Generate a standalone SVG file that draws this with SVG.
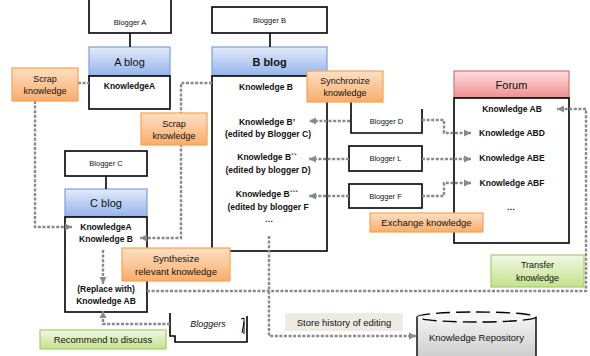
<svg xmlns="http://www.w3.org/2000/svg" width="590" height="356" viewBox="0 0 590 356">
  <defs>
    <linearGradient id="gOrange" x1="0" y1="0" x2="0" y2="1">
      <stop offset="0" stop-color="#fde0c4"/>
      <stop offset="1" stop-color="#f9ad6a"/>
    </linearGradient>
    <linearGradient id="gBlue" x1="0" y1="0" x2="0" y2="1">
      <stop offset="0" stop-color="#e3ebfa"/>
      <stop offset="1" stop-color="#93b3ec"/>
    </linearGradient>
    <linearGradient id="gRed" x1="0" y1="0" x2="0" y2="1">
      <stop offset="0" stop-color="#fcdede"/>
      <stop offset="1" stop-color="#ef8f8f"/>
    </linearGradient>
    <linearGradient id="gGreen" x1="0" y1="0" x2="0" y2="1">
      <stop offset="0" stop-color="#f1f9e2"/>
      <stop offset="1" stop-color="#c3e28c"/>
    </linearGradient>
    <linearGradient id="gGrey" x1="0" y1="0" x2="0" y2="1">
      <stop offset="0" stop-color="#f4f4f4"/>
      <stop offset="1" stop-color="#c8c8c8"/>
    </linearGradient>
    <marker id="arr" markerUnits="userSpaceOnUse" markerWidth="8" markerHeight="8" refX="7" refY="4" orient="auto">
      <path d="M0,0.5 L7,4 L0,7.5 z" fill="#8a8a8a"/>
    </marker>
  </defs>
  <style>
    .box { fill: #ffffff; stroke: #000000; stroke-width: 1.6; }
    .line { fill: none; stroke: #000000; stroke-width: 1.6; }
    .orange { fill: url(#gOrange); stroke: #f7a257; stroke-width: 1.2; }
    .blue { fill: url(#gBlue); stroke: #7e9fd6; stroke-width: 1.2; }
    .red { fill: url(#gRed); stroke: #d97070; stroke-width: 1.2; }
    .green { fill: url(#gGreen); stroke: #a9cc6a; stroke-width: 1.2; }
    .beige { fill: #eeebe2; stroke: none; }
    .dash { fill: none; stroke: #8a8a8a; stroke-width: 2.4; stroke-dasharray: 3 1.6; }
    .dashA { fill: none; stroke: #8a8a8a; stroke-width: 2.4; stroke-dasharray: 3 1.6; marker-end: url(#arr); }
    text { font-family: "Liberation Sans", Arial, sans-serif; fill: #111111; text-anchor: middle; }
    .small { font-size: 7.5px; }
    .lbl { font-size: 9px; }
    .lbl2 { font-size: 9.5px; }
    .head { font-size: 11px; }
    .kb { font-size: 8.5px; font-weight: bold; }
  </style>

  <!-- Blogger A and A blog -->
  <g id="bloggerA">
    <rect class="box" x="89" y="-4" width="82" height="37"/>
    <text class="small" x="130" y="25">Blogger A</text>
  </g>
  <g id="ablog">
    <rect class="blue" x="89" y="47" width="81" height="29"/>
    <text class="head" x="129.5" y="66">A blog</text>
    <rect class="box" x="89" y="76" width="81" height="33"/>
    <text class="kb" x="129.5" y="89">KnowledgeA</text>
  </g>

  <!-- Blogger C and C blog -->
  <g id="bloggerC">
    <rect class="box" x="65" y="151" width="82" height="25"/>
    <text class="small" x="106" y="166">Blogger C</text>
  </g>
  <g id="cblog">
    <rect class="blue" x="65" y="189" width="82" height="28"/>
    <text class="head" x="106" y="207">C blog</text>
    <rect class="box" x="65" y="217" width="82" height="95"/>
    <text class="kb" x="106" y="230">KnowledgeA</text>
    <text class="kb" x="106" y="242">Knowledge B</text>
    <text class="kb" x="106" y="292">(Replace with)</text>
    <text class="kb" x="106" y="304">Knowledge AB</text>
  </g>

  <!-- Blogger B and B blog -->
  <g id="bloggerB">
    <rect class="box" x="212" y="7" width="115" height="26"/>
    <text class="small" x="269.5" y="23">Blogger B</text>
  </g>
  <g id="bblog">
    <rect class="blue" x="212" y="47" width="115" height="29"/>
    <text class="head" x="269.5" y="66" font-weight="bold">B blog</text>
    <rect class="box" x="212" y="76" width="115" height="175"/>
    <text class="kb" x="266" y="90">Knowledge B</text>
    <text class="kb" x="267" y="125">Knowledge  B’</text>
    <text class="kb" x="268" y="137">(edited by Blogger C)</text>
    <text class="kb" x="267" y="160">Knowledge  B``</text>
    <text class="kb" x="268" y="173">(edited by blogger D)</text>
    <text class="kb" x="267" y="197">Knowledge  B```</text>
    <text class="kb" x="268" y="210">(edited by blogger F</text>
    <text class="kb" x="269" y="222">…</text>
  </g>

  <!-- bloggers D, L, F -->
  <g id="bloggerD">
    <path class="line" d="M351,102 V133 H422 V109"/>
    <text class="small" x="386.5" y="124">Blogger D</text>
  </g>
  <g id="bloggerL">
    <rect class="box" x="349" y="146" width="73" height="25"/>
    <text class="small" x="385.5" y="161">Blogger L</text>
  </g>
  <g id="bloggerF">
    <rect class="box" x="349" y="184" width="73" height="24"/>
    <text class="small" x="385.5" y="199">Blogger F</text>
  </g>

  <!-- Forum -->
  <g id="forum">
    <rect class="red" x="454" y="71" width="115" height="27"/>
    <text class="head" x="511.5" y="89">Forum</text>
    <rect class="box" x="454" y="98" width="115" height="145"/>
    <text class="kb" x="512" y="112">Knowledge AB</text>
    <text class="kb" x="512" y="136">Knowledge  ABD</text>
    <text class="kb" x="512" y="161">Knowledge ABE</text>
    <text class="kb" x="512" y="186">Knowledge  ABF</text>
    <text class="kb" x="511" y="210">…</text>
  </g>

  <!-- bloggers (stacked documents) -->
  <g id="bloggers">
    <path class="line" d="M170,313 V336 H175 V342 H247 V316"/>
    <path fill="none" stroke="#000" stroke-width="1" d="M241,319 L244,318 V334 M244,322 L242,333"/>
    <text class="lbl" x="208" y="327" font-style="italic">Bloggers</text>
  </g>

  <!-- knowledge repository -->
  <g id="repository">
    <path d="M417,317 V362 H536 V317" fill="url(#gGrey)" stroke="#000" stroke-width="1.4"/>
    <ellipse cx="476.5" cy="317" rx="59.5" ry="5" fill="#f6f6f6" stroke="#000" stroke-width="1.4" stroke-dasharray="14 6"/>
    <text class="lbl2" x="476.5" y="341">Knowledge Repository</text>
  </g>

  <!-- connectors -->
  <g id="connectors">
    <line class="line" x1="130" y1="33" x2="130" y2="47"/>
    <line class="line" x1="270" y1="33" x2="270" y2="47"/>
    <line class="line" x1="106" y1="176" x2="106" y2="189"/>
    <!-- scrap A knowledge into C blog -->
    <line class="dash" x1="78" y1="83" x2="89" y2="83"/>
    <path class="dashA" d="M35,101 V227 H72"/>
    <!-- scrap B knowledge into C blog -->
    <path class="dashA" d="M212,83 H181 V238 H140"/>
    <!-- replace within C blog -->
    <path class="dashA" d="M103,250 V284"/>
    <!-- bloggers recommend discussion -->
    <path class="dashA" d="M170,324 H103 V311"/>
    <!-- bloggers edit B blog -->
    <path class="dashA" d="M350,121 H309"/>
    <path class="dashA" d="M349,159 H309"/>
    <path class="dashA" d="M349,196 H309"/>
    <!-- bloggers exchange on forum -->
    <path class="dashA" d="M422,120 H444 V133 H471"/>
    <path class="dashA" d="M422,159 H471"/>
    <path class="dashA" d="M422,196 H444 V183 H471"/>
    <!-- transfer forum knowledge back -->
    <path class="dashA" d="M147,291 H586 V109 H557"/>
    <!-- editing history to repository -->
    <path class="dashA" d="M269,236 V336 H416"/>
  </g>

  <!-- action labels -->
  <g id="scrap1">
    <rect class="orange" x="12" y="68" width="66" height="33"/>
    <text class="lbl" x="45" y="82">Scrap</text>
    <text class="lbl" x="45" y="94">knowledge</text>
  </g>
  <g id="scrap2">
    <rect class="orange" x="141" y="113" width="66" height="32"/>
    <text class="lbl" x="174" y="127">Scrap</text>
    <text class="lbl" x="174" y="139">knowledge</text>
  </g>
  <g id="synchronize">
    <rect class="orange" x="307" y="71" width="76" height="31"/>
    <text class="lbl" x="345" y="84">Synchronize</text>
    <text class="lbl" x="345" y="96">knowledge</text>
  </g>
  <g id="synthesize">
    <rect class="orange" x="122" y="248" width="108" height="33"/>
    <text class="lbl2" x="176" y="262">Synthesize</text>
    <text class="lbl2" x="176" y="275">relevant knowledge</text>
  </g>
  <g id="exchange">
    <rect class="orange" x="370" y="213" width="113" height="19"/>
    <text class="lbl2" x="426.5" y="226">Exchange knowledge</text>
  </g>
  <g id="transfer">
    <rect class="green" x="491" y="255" width="93" height="32"/>
    <text class="lbl" x="537.5" y="268">Transfer</text>
    <text class="lbl" x="537.5" y="281">knowledge</text>
  </g>
  <g id="recommend">
    <rect class="green" x="40" y="330" width="126" height="19"/>
    <text class="lbl2" x="103" y="343">Recommend to discuss</text>
  </g>
  <g id="store">
    <rect class="beige" x="285" y="313" width="118" height="18"/>
    <text class="lbl2" x="344" y="326">Store history of editing</text>
  </g>
</svg>
